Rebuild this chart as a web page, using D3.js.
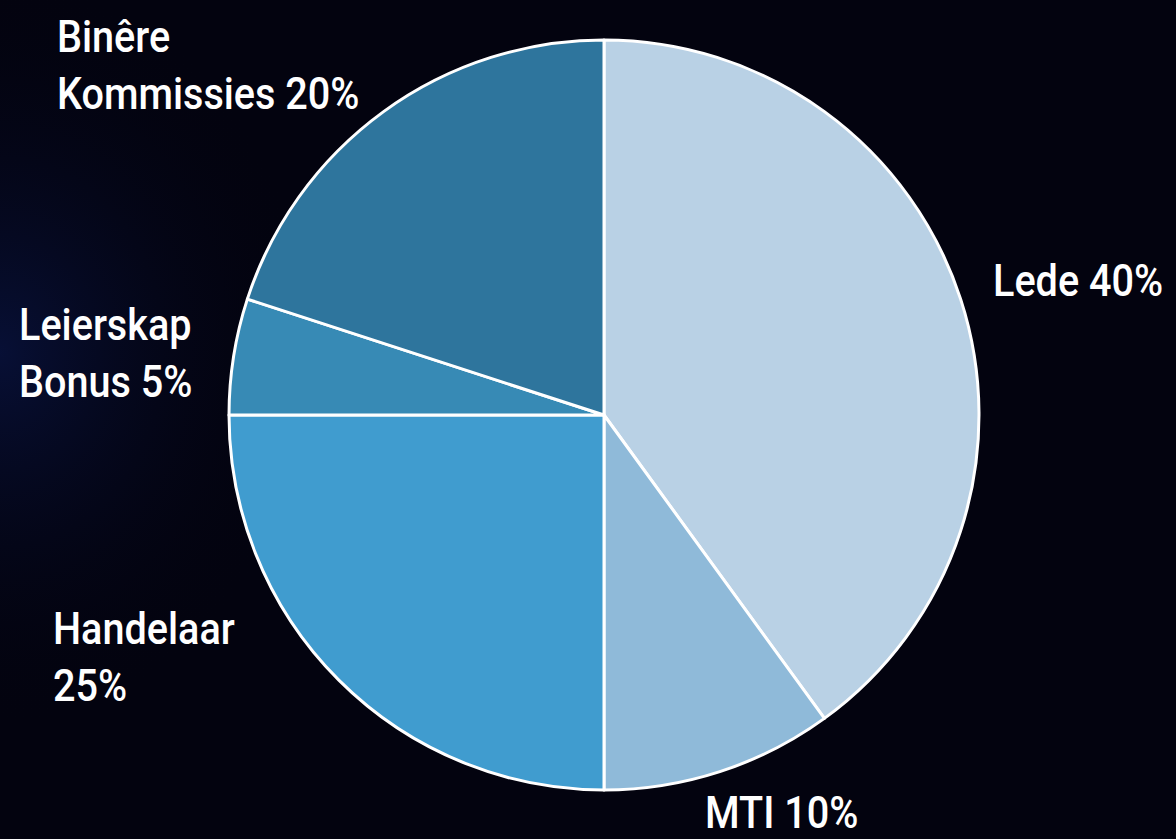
<!DOCTYPE html>
<html>
<head>
<meta charset="utf-8">
<script src="https://cdn.jsdelivr.net/npm/d3@7"></script>
<style>
    body { margin: 0; background: #03030f; }
    svg { display: block; }
    .label { fill: #ffffff; font-family: Roboto, "DejaVu Sans", sans-serif; font-size: 44px; font-weight: 500; }
</style>
</head>
<body>
<svg id="pieChart" width="1176" height="839"></svg>
<script>
// Slice data, clockwise from 12 o'clock
var categories = ["Lede", "MTI", "Handelaar", "Leierskap Bonus", "Binêre Kommissies"];
var shares = [40, 10, 25, 5, 20];
var labelLines = [["Lede 40%"], ["MTI 10%"], ["Handelaar", "25%"], ["Leierskap", "Bonus 5%"], ["Binêre", "Kommissies 20%"]];
var sliceColors = ["#b9d1e5", "#8fbad9", "#409ccf", "#378ab5", "#2e759d"];

var width = 1176,
    height = 839,
    cx = 604,
    cy = 415,
    radius = 375;

// label anchor (left x, first baseline) for each slice
var labelPos = [[993, 296], [705, 828], [53, 644], [19, 340], [57, 52]];

var svg = d3.select("#pieChart");

// dark background with a faint blue glow on the left edge
var defs = svg.append("defs");
var glow = defs.append("radialGradient")
    .attr("id", "glow")
    .attr("cx", 0).attr("cy", 0.42).attr("r", 0.45)
    .attr("gradientTransform", "scale(0.6,1)");
glow.append("stop").attr("offset", "0%").attr("stop-color", "#0b1a55").attr("stop-opacity", 0.55);
glow.append("stop").attr("offset", "100%").attr("stop-color", "#03030f").attr("stop-opacity", 0);

svg.append("rect").attr("width", width).attr("height", height).attr("fill", "#03030f");
svg.append("rect").attr("width", width).attr("height", height).attr("fill", "url(#glow)");

var pie = d3.pie().sort(null).value(function (d) { return d; });
var arc = d3.arc().innerRadius(0).outerRadius(radius);

var g = svg.append("g").attr("transform", "translate(" + cx + "," + cy + ")");

g.selectAll("path")
    .data(pie(shares))
    .enter()
    .append("path")
    .attr("d", arc)
    .attr("fill", function (d, i) { return sliceColors[i]; })
    .attr("stroke", "#ffffff")
    .attr("stroke-width", 3)
    .attr("stroke-linejoin", "round");

// labels
var labels = svg.selectAll("text.label")
    .data(categories)
    .enter()
    .append("text")
    .attr("class", "label")
    .attr("transform", function (d, i) {
        return "translate(" + labelPos[i][0] + "," + labelPos[i][1] + ") scale(0.9,1)";
    });

labels.each(function (d, i) {
    var t = d3.select(this);
    labelLines[i].forEach(function (line, j) {
        t.append("tspan").attr("x", 0).attr("y", j * 57).text(line);
    });
});
</script>
</body>
</html>
